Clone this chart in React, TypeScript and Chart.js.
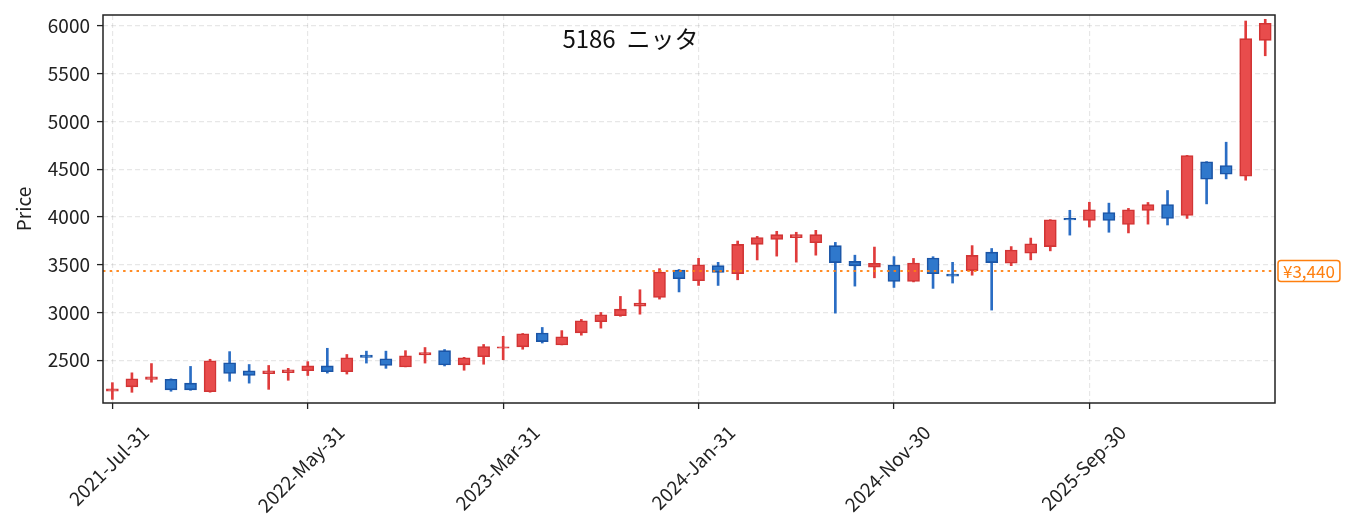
import React, { useEffect, useRef } from "react";
import { Chart, registerables } from "chart.js";

Chart.register(...registerables);

// ---- data (monthly candles, index 0 = 2021-Jul) ----
const opens = [
  2175, 2221, 2300, 2300, 2260, 2170, 2473, 2390, 2360, 2370,
  2390, 2440, 2380, 2555, 2515, 2430, 2555, 2600, 2452, 2536,
  2625, 2640, 2785, 2660, 2787, 2903, 2966, 3065, 3157, 3444,
  3333, 3490, 3406, 3713, 3765, 3784, 3731, 3700, 3535, 3475,
  3496, 3325, 3570, 3402, 3438, 3632, 3515, 3620, 3690, 3985,
  3964, 4047, 3921, 4068, 4131, 4015, 4577, 4539, 4427, 5850,
];
const highs = [
  2265, 2368, 2465, 2305, 2435, 2510, 2590, 2455, 2445, 2415,
  2485, 2625, 2560, 2595, 2595, 2600, 2633, 2612, 2530, 2665,
  2750, 2780, 2843, 2810, 2927, 3000, 3168, 3238, 3459, 3450,
  3567, 3525, 3748, 3797, 3850, 3840, 3860, 3734, 3600, 3685,
  3585, 3566, 3584, 3525, 3700, 3670, 3690, 3779, 3972, 4070,
  4154, 4145, 4090, 4152, 4277, 4645, 4580, 4783, 6052, 6070,
];
const lows = [
  2090, 2164, 2270, 2175, 2185, 2165, 2280, 2260, 2195, 2290,
  2340, 2365, 2355, 2470, 2415, 2430, 2470, 2440, 2395, 2458,
  2505, 2615, 2680, 2660, 2762, 2836, 2960, 2982, 3140, 3215,
  3283, 3283, 3342, 3550, 3590, 3527, 3600, 2993, 3276, 3363,
  3262, 3320, 3252, 3308, 3390, 3025, 3490, 3551, 3645, 3810,
  3895, 3840, 3833, 3925, 3916, 3985, 4137, 4399, 4385, 5688,
];
const closes = [
  2200, 2305, 2325, 2190, 2190, 2494, 2361, 2340, 2390, 2400,
  2440, 2380, 2525, 2530, 2445, 2546, 2580, 2450, 2525, 2644,
  2640, 2777, 2695, 2745, 2913, 2975, 3035, 3098, 3423, 3354,
  3500, 3420, 3713, 3784, 3815, 3815, 3815, 3522, 3488, 3515,
  3325, 3517, 3406, 3380, 3598, 3522, 3654, 3719, 3970, 3968,
  4074, 3964, 4074, 4131, 3985, 4644, 4396, 4448, 5867, 6028,
];
const xTickIndex = [0, 10, 20, 30, 40, 50];
const xTickLabels = [
  "2021-Jul-31",
  "2022-May-31",
  "2023-Mar-31",
  "2024-Jan-31",
  "2024-Nov-30",
  "2025-Sep-30",
];
const yTickValues = [2500, 3000, 3500, 4000, 4500, 5000, 5500, 6000];
const refLevel = 3435;
const refLabel = "¥3,440";
const titleText = "5186  ニッタ";
const yTitle = "Price";

// ---- styles ----
const FONT = "'Noto Sans CJK JP', 'Noto Sans', sans-serif";
const UP_FILL = "#e84c4c";
const UP_EDGE = "#d23535";
const DOWN_FILL = "#2f78cc";
const DOWN_EDGE = "#1b55a6";
const UP_WICK = "#e03b3b";
const DOWN_WICK = "#2a6dc4";
const ORANGE = "#ff7f0e";
const X_MIN = -0.48;
const X_MAX = 59.5;
const Y_MIN = 2052;
const Y_MAX = 6115;

const overlayPlugin = {
  id: "overlay",
  afterDraw(chart: any) {
    const { ctx, chartArea: a, scales } = chart;
    ctx.save();
    // frame
    ctx.strokeStyle = "#222";
    ctx.lineWidth = 1.5;
    ctx.setLineDash([]);
    ctx.strokeRect(a.left, a.top, a.right - a.left, a.bottom - a.top);

    // title
    ctx.fillStyle = "#111";
    ctx.font = `24px ${FONT}`;
    ctx.textAlign = "center";
    ctx.textBaseline = "middle";
    ctx.fillText(titleText, a.left + 0.45 * (a.right - a.left), 39);

    // ref label box
    const y = scales.y.getPixelForValue(refLevel);
    ctx.font = `17px ${FONT}`;
    const tw = ctx.measureText(refLabel).width;
    const bx = a.right + 3;
    const bw = tw + 10;
    const bh = 21;
    ctx.beginPath();
    if ((ctx as any).roundRect) {
      (ctx as any).roundRect(bx, y - bh / 2, bw, bh, 3);
    } else {
      ctx.rect(bx, y - bh / 2, bw, bh);
    }
    ctx.fillStyle = "#fff";
    ctx.fill();
    ctx.strokeStyle = ORANGE;
    ctx.lineWidth = 1.5;
    ctx.stroke();
    ctx.fillStyle = ORANGE;
    ctx.textAlign = "left";
    ctx.textBaseline = "middle";
    ctx.fillText(refLabel, bx + 5, y + 1);

    // y title
    ctx.translate(24, (a.top + a.bottom) / 2);
    ctx.rotate(-Math.PI / 2);
    ctx.fillStyle = "#222";
    ctx.font = `19px ${FONT}`;
    ctx.textAlign = "center";
    ctx.textBaseline = "middle";
    ctx.fillText(yTitle, 0, 0);
    ctx.restore();
  },
};

export default function App() {
  const ref = useRef<HTMLCanvasElement>(null);

  useEffect(() => {
    const idx = opens.map((_, i) => i);
    const up = opens.map((o, i) => closes[i] >= o);
    const gridCommon = {
      color: "rgba(0,0,0,0.095)",
      lineWidth: 1.2,
      drawTicks: true,
      tickLength: 6,
      tickColor: "#222",
      tickWidth: 1.3,
      tickBorderDash: [],
      offset: false,
    };
    const chart = new Chart(ref.current as HTMLCanvasElement, {
      type: "bar",
      data: {
        datasets: [
          {
            type: "line",
            data: [
              { x: X_MIN, y: refLevel },
              { x: X_MAX, y: refLevel },
            ],
            borderColor: "rgba(255,127,14,0.9)",
            borderWidth: 2,
            borderDash: [2.5, 4.2],
            pointRadius: 0,
            fill: false,
            order: 0,
          } as any,
          {
            type: "bar",
            data: idx.map((i) => ({ x: i, y: [opens[i], closes[i]] })),
            backgroundColor: up.map((u) => (u ? UP_FILL : DOWN_FILL)),
            borderColor: up.map((u) => (u ? UP_EDGE : DOWN_EDGE)),
            borderWidth: 1.6,
            borderSkipped: false,
            barThickness: 12,
            grouped: false,
            order: 1,
          } as any,
          {
            type: "bar",
            data: idx.map((i) => ({ x: i, y: [lows[i], highs[i]] })),
            backgroundColor: up.map((u) => (u ? UP_WICK : DOWN_WICK)),
            borderWidth: 0,
            barThickness: 2,
            grouped: false,
            order: 2,
          } as any,
        ],
      },
      options: {
        animation: false,
        responsive: false,
        events: [],
        layout: { padding: { top: 15, right: 78, bottom: 0, left: 0 } },
        plugins: {
          legend: { display: false },
          tooltip: { enabled: false },
          title: { display: false },
        },
        scales: {
          x: {
            type: "linear",
            min: X_MIN,
            max: X_MAX,
            offset: false,
            grid: gridCommon,
            border: { display: false, dash: [5, 3] },
            afterBuildTicks: (scale: any) => {
              scale.ticks = xTickIndex.map((v) => ({ value: v }));
            },
            afterFit: (scale: any) => {
              scale.height = 128;
              scale.paddingLeft = 0;
              scale.paddingRight = 0;
            },
            ticks: {
              autoSkip: false,
              minRotation: 45,
              maxRotation: 45,
              labelOffset: 33,
              padding: 12,
              color: "#222",
              font: { family: FONT, size: 19 },
              callback: (v: any) => {
                const k = xTickIndex.indexOf(Number(v));
                return k >= 0 ? xTickLabels[k] : "";
              },
            },
          },
          y: {
            type: "linear",
            min: Y_MIN,
            max: Y_MAX,
            grid: gridCommon,
            border: { display: false, dash: [5, 3] },
            afterBuildTicks: (scale: any) => {
              scale.ticks = yTickValues.map((v) => ({ value: v }));
            },
            afterFit: (scale: any) => {
              scale.width = 103;
              scale.paddingTop = 0;
              scale.paddingBottom = 0;
            },
            ticks: {
              padding: 7,
              color: "#222",
              font: { family: FONT, size: 19 },
              callback: (v: any) => String(v),
            },
          },
        },
      } as any,
      plugins: [overlayPlugin],
    });
    return () => chart.destroy();
  }, []);

  return (
    <div style={{ position: "absolute", left: 0, top: 0, width: 1353, height: 531, background: "#fff" }}>
      <canvas ref={ref} width={1353} height={531} style={{ display: "block" }} />
    </div>
  );
}
